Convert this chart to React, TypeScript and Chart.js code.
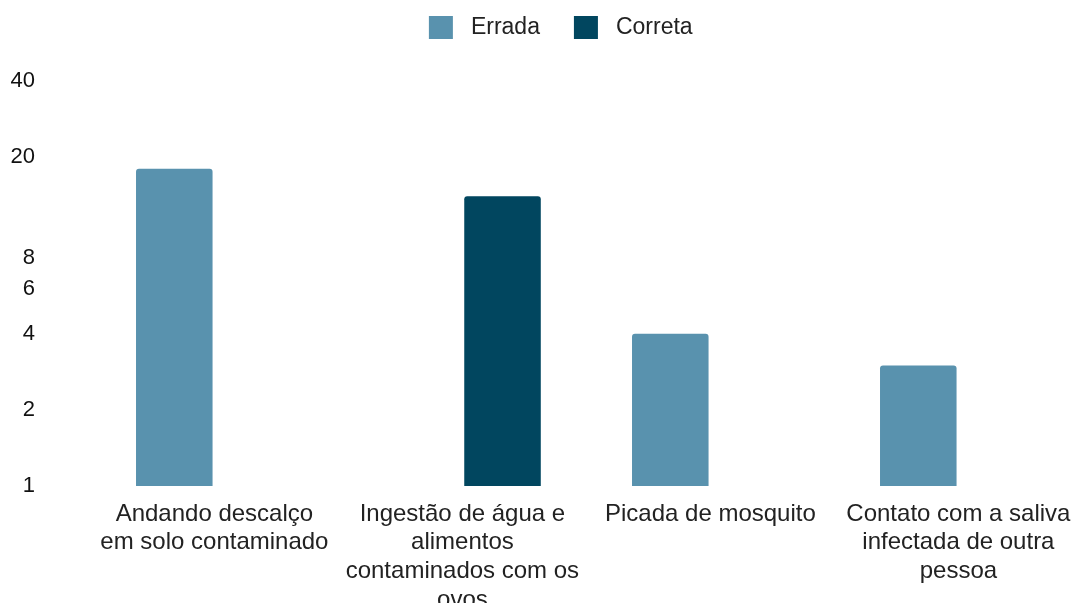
import React, { useEffect, useRef } from "react";
import { Chart, registerables } from "chart.js";

Chart.register(...registerables);

const CATEGORIES: string[][] = [
  ["Andando descalço", "em solo contaminado"],
  ["Ingestão de água e", "alimentos", "contaminados com os", "ovos"],
  ["Picada de mosquito"],
  ["Contato com a saliva", "infectada de outra", "pessoa"],
];
const ERRADA: (number | null)[] = [18, null, 4, 3];
const CORRETA: (number | null)[] = [null, 14, null, null];
const Y_TICKS: number[] = [1, 2, 4, 6, 8, 20, 40];

const COLOR_ERRADA = "#5992AE";
const COLOR_CORRETA = "#01465F";
const FONT = "'Liberation Sans', Arial, sans-serif";

export default function App() {
  const ref = useRef<HTMLCanvasElement | null>(null);

  useEffect(() => {
    if (!ref.current) return;
    const chart = new Chart(ref.current, {
      type: "bar",
      data: {
        labels: CATEGORIES,
        datasets: [
          {
            label: "Errada",
            data: ERRADA,
            backgroundColor: COLOR_ERRADA,
            borderRadius: 3,
            categoryPercentage: 0.647,
            barPercentage: 0.954,
          },
          {
            label: "Correta",
            data: CORRETA,
            backgroundColor: COLOR_CORRETA,
            borderRadius: 3,
            categoryPercentage: 0.647,
            barPercentage: 0.954,
          },
        ],
      },
      options: {
        animation: false,
        responsive: true,
        maintainAspectRatio: false,
        layout: { padding: { left: 0, right: 0, top: 0, bottom: 0 } },
        plugins: {
          tooltip: { enabled: false },
          title: {
            display: true,
            text: "",
            weight: 500,
            font: { size: 10, lineHeight: 1, family: FONT },
            padding: { top: 15.5, bottom: 0 },
          } as any,
          legend: {
            display: true,
            position: "top",
            labels: {
              color: "#222",
              font: { size: 23, family: FONT },
              boxWidth: 37,
              boxHeight: 36,
              padding: 27.5,
              generateLabels: (c: any) => {
                const items = (Chart.defaults.plugins.legend.labels as any).generateLabels(c);
                return items.map((it: any) => ({
                  ...it,
                  lineWidth: 13,
                  strokeStyle: "#ffffff",
                  borderRadius: 0,
                }));
              },
            },
          },
        },
        scales: {
          x: {
            grid: { display: false, drawTicks: false },
            border: { display: false },
            ticks: {
              color: "#222",
              font: { size: 24, family: FONT, lineHeight: 1.2 },
              padding: 13.6,
              autoSkip: false,
              maxRotation: 0,
              minRotation: 0,
            },
            afterFit: (s: any) => {
              s.height = 136;
            },
          },
          y: {
            type: "logarithmic",
            position: "left",
            min: 1,
            max: 40,
            grid: { display: false, drawTicks: false },
            border: { display: false },
            ticks: {
              color: "#111",
              font: { size: 22, family: FONT },
              padding: 55.4,
              autoSkip: false,
              callback: (v: any) => String(v),
            },
            afterBuildTicks: (s: any) => {
              s.ticks = Y_TICKS.map((v) => ({ value: v }));
            },
            afterFit: (s: any) => {
              s.width = 90.4;
            },
          },
          y2: {
            type: "linear",
            position: "right",
            display: true,
            grid: { display: false, drawTicks: false },
            border: { display: false },
            ticks: { display: false },
            afterFit: (s: any) => {
              s.width = 32.6;
            },
          },
        },
      } as any,
    });
    return () => chart.destroy();
  }, []);

  return (
    <div style={{ position: "fixed", left: 0, top: 0, right: 0, bottom: 0, overflow: "hidden", background: "#fff" }}>
      <div style={{ position: "absolute", left: 0, top: -18, width: 1115, height: 640 }}>
        <canvas ref={ref} />
      </div>
    </div>
  );
}
